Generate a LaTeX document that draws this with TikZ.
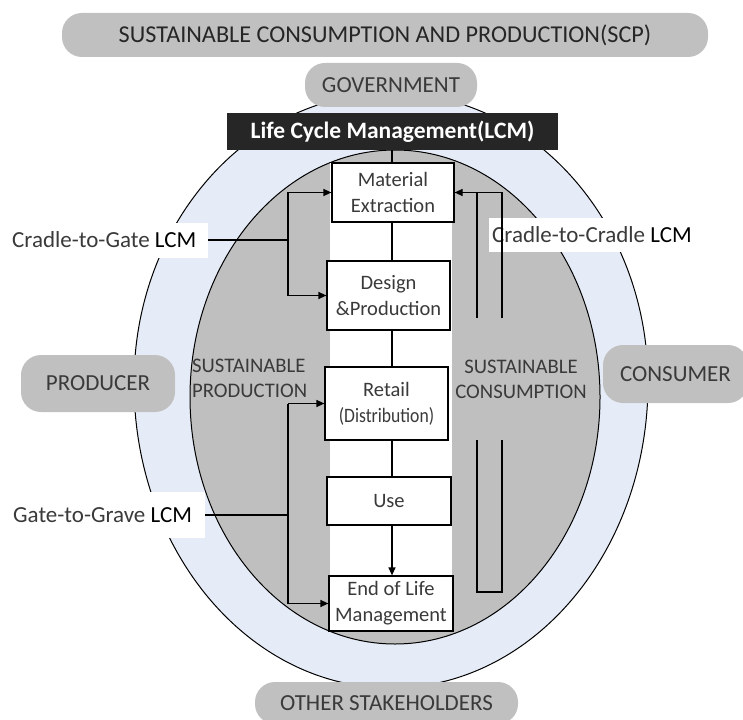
\documentclass[tikz,border=0pt]{standalone}
\usepackage{fontspec}
\usepackage{graphicx}
\setmainfont{Carlito}
\usetikzlibrary{arrows.meta}

\definecolor{pillgray}{HTML}{C0C0C0}
\definecolor{ringblue}{HTML}{E6ECF7}
\definecolor{coregray}{HTML}{BFBFBF}
\definecolor{barblack}{HTML}{262626}
\definecolor{txtgray}{HTML}{3A3A3A}

\begin{document}
\begin{tikzpicture}[x=1pt,y=-1pt,
  pill/.style={fill=pillgray, rounded corners=20pt, inner sep=0pt, text=txtgray,
               font=\fontsize{23}{27}\selectfont},
  stage/.style={draw, fill=white, line width=1.2pt, inner sep=0pt, align=center,
                text=txtgray, font=\fontsize{20.5}{26}\selectfont},
  tag/.style={fill=white, inner ysep=0pt, text=txtgray, font=\fontsize{23}{27}\selectfont},
  link/.style={line width=1.2pt},
  arr/.style={link, -{Triangle[length=8pt,width=7pt]}},
  sideword/.style={text=txtgray, font=\fontsize{20.7}{25}\selectfont, inner sep=0pt}
]
\useasboundingbox (0,0) rectangle (743,719);
\fill[white] (0,0) rectangle (743,719);

% outer stakeholder ring and inner SCP core
\draw[fill=ringblue, line width=1pt] (134,383)
  arc[start angle=180, end angle=0, x radius=257pt, y radius=290pt]
  arc[start angle=0, end angle=-180, x radius=257pt, y radius=305pt] -- cycle;
\draw[fill=coregray, line width=1pt] (395,397) ellipse[x radius=205pt, y radius=247pt];
\fill[white] (330,163) rectangle (452,631);

% life-cycle stages
\node[stage, minimum width=122pt, minimum height=59pt] (mat) at (393,192.5) {Material\\Extraction};
\node[stage, minimum width=123pt, minimum height=69pt] (des) at (388.5,295.5) {Design\\\&Production};
\node[stage, minimum width=123pt, minimum height=73pt] (ret) at (386.5,403.5) {Retail\\\scalebox{0.86}[1]{(Distribution)}};
\node[stage, minimum width=124pt, minimum height=48pt] (use) at (389,501) {Use};
\node[stage, minimum width=124pt, minimum height=55pt] (eol) at (391,603.5) {End of Life\\Management};

% the stage chain runs down one common axis
\coordinate (axis) at (392,0);
\draw[link] (mat.south -| axis) -- (des.north -| axis);
\draw[link] (des.south -| axis) -- (ret.north -| axis);
\draw[link] (ret.south -| axis) -- (use.north -| axis);
\draw[arr] (use.south -| axis) -- (eol.north -| axis);

% scope labels
\node[tag, anchor=west, inner xsep=12pt, minimum height=35pt] (ctg) at (0,240)
  {Cradle-to-Gate \textcolor{black}{LCM}};
\node[tag, anchor=west, inner xsep=13pt, minimum height=46pt] (gtg) at (0,515)
  {Gate-to-Grave \textcolor{black}{LCM}};
\node[tag, anchor=west, inner xsep=3pt, minimum height=34pt] (c2c) at (489,235)
  {Cradle-to-Cradle \textcolor{black}{LCM}};

% brackets
\coordinate (L1) at (288,0);
\coordinate (R1) at (502,0);
\coordinate (R2) at (477,0);
\coordinate (c2cbot) at (477,592);

\draw[link] (ctg.east) -- (ctg.east -| L1);
\draw[arr] (mat.west -| L1) -- (mat.west);
\draw[arr] (mat.west -| L1) -- (des.west -| L1) -- (des.west);

\draw[link] (gtg.east) -- (gtg.east -| L1);
\draw[arr] (ret.west -| L1) -- (ret.west);
\draw[arr] (ret.west -| L1) -- (eol.west -| L1) -- (eol.west);

\draw[arr] (mat.east -| R2) -- (c2cbot) -- (c2cbot -| R1) -- (mat.east -| R1) -- (mat.east);

% side words
\node[sideword, anchor=west, align=left] (sp) at (192,378) {SUSTAINABLE\\PRODUCTION};
\node[sideword, fill=coregray, align=center, inner ysep=42pt, inner xsep=2pt] (sc) at (521,379)
  {SUSTAINABLE\\CONSUMPTION};

% stakeholders and headings
\node[pill, minimum width=646pt, minimum height=44pt, text=black!85,
      font=\fontsize{24.2}{28}\selectfont] (scp) at (385,35)
  {SUSTAINABLE CONSUMPTION AND PRODUCTION(SCP)};
\node[pill, minimum width=172pt, minimum height=44pt] (gov) at (391,85) {GOVERNMENT};
\node[fill=barblack, text=white, font=\bfseries\fontsize{23.5}{27}\selectfont,
      minimum width=331pt, minimum height=37pt, inner sep=0pt] (lcm) at (392.5,131.5)
  {Life Cycle Management(LCM)};
\draw[link] (lcm.south -| axis) -- (mat.north -| axis);
\node[pill, minimum width=154pt, minimum height=57pt] (prod) at (98,383.5) {PRODUCER};
\node[pill, minimum width=145pt, minimum height=58pt] (cons) at (675.5,374) {CONSUMER};
\node[pill, minimum width=263pt, minimum height=42pt] (oth) at (386.5,703) {OTHER STAKEHOLDERS};
\end{tikzpicture}
\end{document}
